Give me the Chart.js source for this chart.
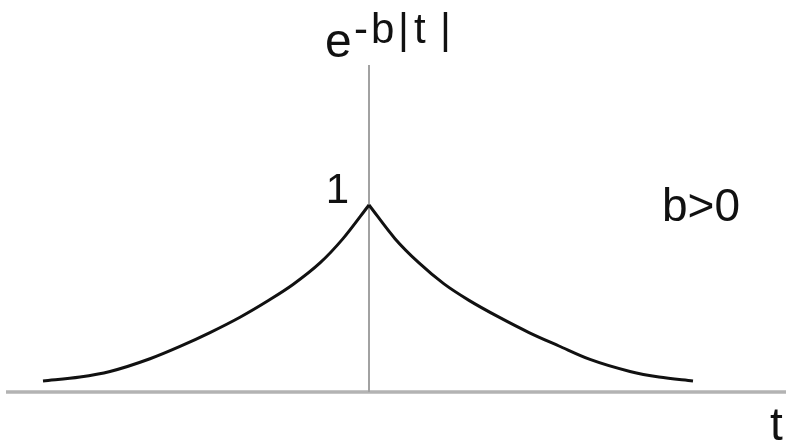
<!DOCTYPE html>
<html>
<head>
<meta charset="utf-8">
<script src="https://cdn.jsdelivr.net/npm/chart.js@4.4.0/dist/chart.umd.min.js"></script>
<style>
  html, body { margin: 0; padding: 0; background: #fff; }
  #wrap { width: 786px; height: 444px; }
</style>
</head>
<body>
<div id="wrap"><canvas id="chart-decay"></canvas></div>
<script>
// ─── Curve samples of e^{-b|t|}, left and right branch ───
const leftT  = [-3.26, -2.89, -2.59, -2.19, -1.89, -1.59, -1.29, -1.01, -0.76, -0.49, -0.26, 0];
const leftV  = [0.059, 0.080, 0.110, 0.178, 0.244, 0.318, 0.400, 0.488, 0.575, 0.690, 0.820, 1.0];
const rightT = [0, 0.26, 0.50, 0.75, 1.00, 1.30, 1.60, 1.90, 2.21, 2.61, 2.90, 3.24];
const rightV = [1.0, 0.820, 0.690, 0.578, 0.490, 0.400, 0.318, 0.246, 0.174, 0.110, 0.080, 0.059];

const tRange = [-3.69, 4.17];
const vRange = [-0.278, 2.096];

const toPoints = (ts, vs) => ts.map((t, i) => ({ x: t, y: vs[i] }));

// axes + labels, drawn around the curve
const axesPlugin = {
    id: 'axesPlugin',
    beforeDatasetsDraw(chart) {
        const ctx = chart.ctx;
        const x = chart.scales.x, y = chart.scales.y;
        const x0 = x.getPixelForValue(0);
        const y0 = y.getPixelForValue(0);
        ctx.save();
        // horizontal axis
        ctx.strokeStyle = '#b3b3b3';
        ctx.lineWidth = 3.5;
        ctx.beginPath();
        ctx.moveTo(6, y0);
        ctx.lineTo(chart.width, y0);
        ctx.stroke();
        // vertical axis
        ctx.strokeStyle = '#a2a2a2';
        ctx.lineWidth = 2;
        ctx.beginPath();
        ctx.moveTo(x0, 65);
        ctx.lineTo(x0, y0);
        ctx.stroke();
        ctx.restore();
    },
    afterDatasetsDraw(chart) {
        const ctx = chart.ctx;
        const x0 = chart.scales.x.getPixelForValue(0);
        const y1 = chart.scales.y.getPixelForValue(1);
        ctx.save();
        ctx.fillStyle = '#111';
        ctx.textBaseline = 'alphabetic';
        ctx.textAlign = 'left';

        // e^{-b|t|}
        ctx.font = '48px "Liberation Sans", Arial, sans-serif';
        ctx.fillText('e', 325, 57);
        ctx.font = '42px "Liberation Sans", Arial, sans-serif';
        const sup = [['-', 354], ['b', 371], ['|', 398], ['t', 414], ['|', 440]];
        sup.forEach(([c, px]) => ctx.fillText(c, px, 43));

        // tick "1" next to the peak
        ctx.font = '42px "Liberation Sans", Arial, sans-serif';
        ctx.textAlign = 'right';
        ctx.fillText('1', x0 - 20, y1 - 2);

        ctx.textAlign = 'left';
        ctx.font = '46px "Liberation Sans", Arial, sans-serif';
        ctx.fillText('b>0', 662, 221);
        ctx.fillText('t', 770, 440);
        ctx.restore();
    }
};

const branch = (ts, vs) => ({
    data: toPoints(ts, vs),
    borderColor: '#111',
    borderWidth: 3,
    pointRadius: 0,
    cubicInterpolationMode: 'monotone',
    fill: false,
});

new Chart(document.getElementById('chart-decay'), {
    type: 'line',
    data: {
        datasets: [branch(leftT, leftV), branch(rightT, rightV)]
    },
    options: {
        responsive: true,
        maintainAspectRatio: false,
        animation: false,
        layout: { padding: 0 },
        plugins: {
            legend: { display: false },
            tooltip: { enabled: false },
        },
        scales: {
            x: { type: 'linear', min: tRange[0], max: tRange[1], display: false },
            y: { type: 'linear', min: vRange[0], max: vRange[1], display: false },
        }
    },
    plugins: [axesPlugin]
});
</script>
</body>
</html>
